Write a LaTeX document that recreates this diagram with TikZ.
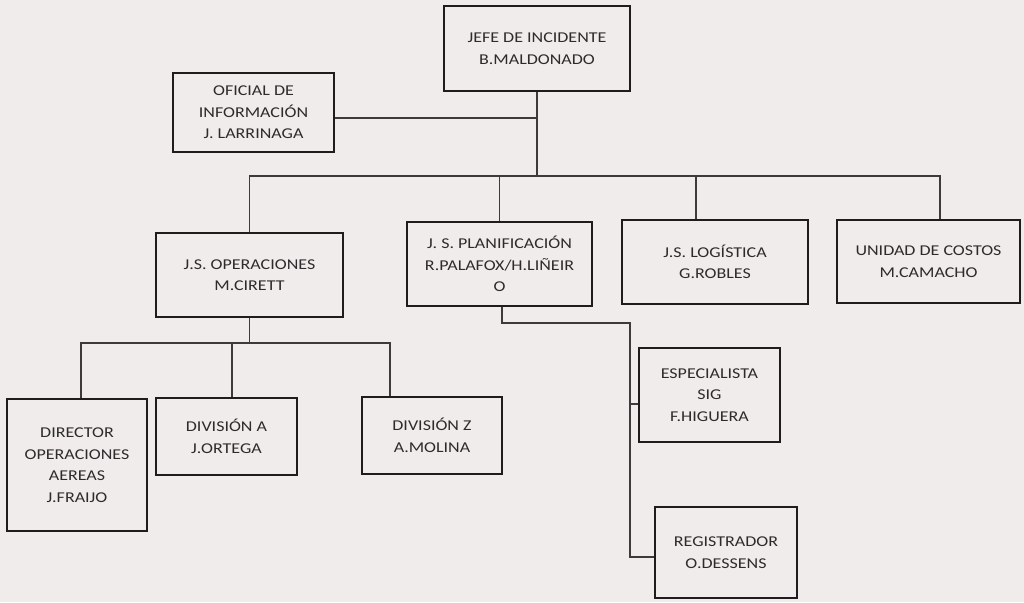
\documentclass[tikz,border=0pt]{standalone}
\usepackage{fontspec}
\setmainfont{Carlito}[FakeStretch=1.2]
\definecolor{bg}{RGB}{240,236,236}
\definecolor{boxline}{RGB}{30,28,28}
\definecolor{conn}{RGB}{60,58,58}
\definecolor{txt}{RGB}{45,43,43}
\begin{document}
\begin{tikzpicture}[x=1pt,y=-1pt,
  orgbox/.style={draw=boxline,line width=2pt,rectangle,inner sep=0pt,align=center,
    text=txt,font=\fontsize{15}{21.5}\selectfont},
  link/.style={draw=conn,line width=1.2pt}]
\fill[bg] (0,0) rectangle (1024,602);
\useasboundingbox (0,0) rectangle (1024,602);
% boxes
\node[orgbox,minimum width=186pt,minimum height=85pt] (jefe) at (537,48.5) {JEFE DE INCIDENTE\\B.MALDONADO};
\node[orgbox,minimum width=161pt,minimum height=79pt] (ofi) at (253.5,112.5) {OFICIAL DE\\INFORMACIÓN\\J. LARRINAGA};
\node[orgbox,minimum width=187pt,minimum height=84pt] (ope) at (249.5,275) {J.S. OPERACIONES\\M.CIRETT};
\node[orgbox,minimum width=185pt,minimum height=84pt] (pla) at (499.5,264) {J. S. PLANIFICACIÓN\\R.PALAFOX/H.LIÑEIR\\O};
\node[orgbox,minimum width=186pt,minimum height=84pt] (log) at (715,262) {J.S. LOGÍSTICA\\G.ROBLES};
\node[orgbox,minimum width=183pt,minimum height=83pt] (uni) at (928.5,261.5) {UNIDAD DE COSTOS\\M.CAMACHO};
\node[orgbox,minimum width=140pt,minimum height=132pt] (dir) at (77,465) {DIRECTOR\\OPERACIONES\\AEREAS\\J.FRAIJO};
\node[orgbox,minimum width=141pt,minimum height=77pt] (diva) at (226.5,436.5) {DIVISIÓN A\\J.ORTEGA};
\node[orgbox,minimum width=140pt,minimum height=77pt] (divz) at (432,435.5) {DIVISIÓN Z\\A.MOLINA};
\node[orgbox,minimum width=141pt,minimum height=94pt] (esp) at (709.5,395) {ESPECIALISTA\\SIG\\F.HIGUERA};
\node[orgbox,minimum width=142pt,minimum height=91pt] (reg) at (726,552.5) {REGISTRADOR\\O.DESSENS};
% junction coordinates
\coordinate (ofiJ) at (537,118);
\coordinate (busL) at (249.5,176);
\coordinate (busR) at (940,176);
\coordinate (logJ) at (696,176);
\coordinate (subL) at (81,343);
\coordinate (subA) at (232,343);
\coordinate (subR) at (390,343);
\coordinate (plaB) at (502,323);
\coordinate (plaR) at (630,323);
\coordinate (espJ) at (630,404);
\coordinate (regJ) at (630,557);
% connectors
\draw[link] (jefe.south) -- (jefe.south |- busL);
\draw[link] (ofi.east |- ofiJ) -- (ofiJ);
\draw[link] (ope.north) -- (busL) -- (busR) -- (busR |- uni.north);
\draw[link] (pla.north) -- (pla.north |- busL);
\draw[link] (logJ) -- (logJ |- log.north);
\draw[link] (ope.south) -- (ope.south |- subL);
\draw[link] (subL |- dir.north) -- (subL) -- (subR) -- (subR |- divz.north);
\draw[link] (subA) -- (subA |- diva.north);
\draw[link] (plaB |- pla.south) -- (plaB) -- (plaR) -- (regJ) -- (reg.west |- regJ);
\draw[link] (espJ) -- (esp.west |- espJ);
\end{tikzpicture}
\end{document}
